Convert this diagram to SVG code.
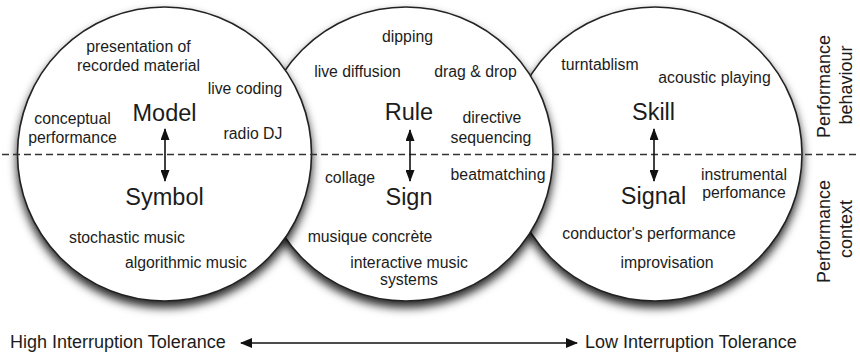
<svg xmlns="http://www.w3.org/2000/svg" width="860" height="356" viewBox="0 0 860 356">
  <defs>
    <filter id="shadow" x="-20%" y="-20%" width="140%" height="140%">
      <feDropShadow dx="0" dy="6" stdDeviation="5" flood-color="#000" flood-opacity="0.85"/>
    </filter>
    <marker id="head" viewBox="0 0 12 10" refX="11" refY="5" markerWidth="12" markerHeight="10" markerUnits="userSpaceOnUse" orient="auto-start-reverse">
      <path d="M0,0 L12,5 L0,10 Z" fill="#111"/>
    </marker>
    <marker id="headS" viewBox="0 0 12 9" refX="11" refY="4.5" markerWidth="12" markerHeight="9" markerUnits="userSpaceOnUse" orient="auto-start-reverse">
      <path d="M0,0 L12,4.5 L0,9 Z" fill="#111"/>
    </marker>
    <style>
      .disc { fill: #fff; stroke: #222; stroke-width: 1.6; filter: url(#shadow); }
      text { font-family: "Liberation Sans", Arial, Helvetica, sans-serif; fill: #1c1c1c; }
      .big { font-size: 23.5px; text-anchor: middle; }
      .sm { font-size: 15.8px; text-anchor: middle; }
      .lab { font-size: 18px; text-anchor: middle; }
      .axis { font-size: 18px; }
      .link { fill: none; stroke: #111; stroke-width: 1.6; }
      .dash { fill: none; stroke: #333; stroke-width: 1.6; stroke-dasharray: 7 4; }
    </style>
  </defs>

  <!-- circles, drawn right to left so the left one sits on top -->
  <g id="signal-circle">
    <circle class="disc" cx="655" cy="154" r="147"/>
  </g>
  <g id="sign-circle">
    <circle class="disc" cx="406" cy="154" r="147"/>
  </g>
  <g id="symbol-circle">
    <circle class="disc" cx="164.5" cy="154" r="147"/>
  </g>

  <!-- boundary between behaviour and context -->
  <line class="dash" x1="2" y1="154.5" x2="860" y2="154.5"/>

  <!-- left circle: Model / Symbol -->
  <g id="model-symbol">
    <text class="sm" x="138.5" y="52">presentation of</text>
    <text class="sm" x="138.5" y="71">recorded material</text>
    <text class="sm" x="245" y="94">live coding</text>
    <text class="sm" x="72.5" y="124">conceptual</text>
    <text class="sm" x="72.5" y="143">performance</text>
    <text class="sm" x="253" y="139">radio DJ</text>
    <text class="big" x="164.5" y="120.5">Model</text>
    <text class="big" x="164.5" y="205">Symbol</text>
    <text class="sm" x="127" y="243">stochastic music</text>
    <text class="sm" x="186" y="268">algorithmic music</text>
  </g>

  <!-- middle circle: Rule / Sign -->
  <g id="rule-sign">
    <text class="sm" x="407.5" y="42">dipping</text>
    <text class="sm" x="357.5" y="77">live diffusion</text>
    <text class="sm" x="475.5" y="77">drag &amp; drop</text>
    <text class="big" x="409" y="120">Rule</text>
    <text class="sm" x="492" y="123">directive</text>
    <text class="sm" x="491" y="143">sequencing</text>
    <text class="sm" x="350" y="183">collage</text>
    <text class="sm" x="498" y="180">beatmatching</text>
    <text class="big" x="409" y="205">Sign</text>
    <text class="sm" x="370" y="242">musique concrète</text>
    <text class="sm" x="409" y="268">interactive music</text>
    <text class="sm" x="409" y="285">systems</text>
  </g>

  <!-- right circle: Skill / Signal -->
  <g id="skill-signal">
    <text class="sm" x="600" y="70">turntablism</text>
    <text class="sm" x="714.5" y="83">acoustic playing</text>
    <text class="big" x="653.5" y="120">Skill</text>
    <text class="sm" x="744" y="180">instrumental</text>
    <text class="sm" x="744" y="198">perfomance</text>
    <text class="big" x="653.5" y="204">Signal</text>
    <text class="sm" x="649" y="239">conductor's performance</text>
    <text class="sm" x="667" y="268">improvisation</text>
  </g>

  <!-- side labels -->
  <g id="behaviour-label">
    <text class="lab" transform="translate(830,86.5) rotate(-90)">Performance</text>
    <text class="lab" transform="translate(852,85) rotate(-90)">behaviour</text>
  </g>
  <g id="context-label">
    <text class="lab" transform="translate(830,231.5) rotate(-90)">Performance</text>
    <text class="lab" transform="translate(852,229) rotate(-90)">context</text>
  </g>

  <!-- tolerance scale -->
  <g id="tolerance-high">
    <text class="axis" x="10" y="348">High Interruption Tolerance</text>
  </g>
  <g id="tolerance-low">
    <text class="axis" x="585" y="348">Low Interruption Tolerance</text>
  </g>

  <!-- connectors -->
  <g id="connectors">
    <line class="link" x1="165" y1="129" x2="165" y2="181" marker-start="url(#headS)" marker-end="url(#headS)"/>
    <line class="link" x1="410" y1="130" x2="410" y2="181" marker-start="url(#headS)" marker-end="url(#headS)"/>
    <line class="link" x1="654" y1="129" x2="654" y2="181" marker-start="url(#headS)" marker-end="url(#headS)"/>
    <line class="link" x1="241" y1="343" x2="577" y2="343" stroke-width="2" marker-start="url(#head)" marker-end="url(#head)"/>
  </g>
</svg>
